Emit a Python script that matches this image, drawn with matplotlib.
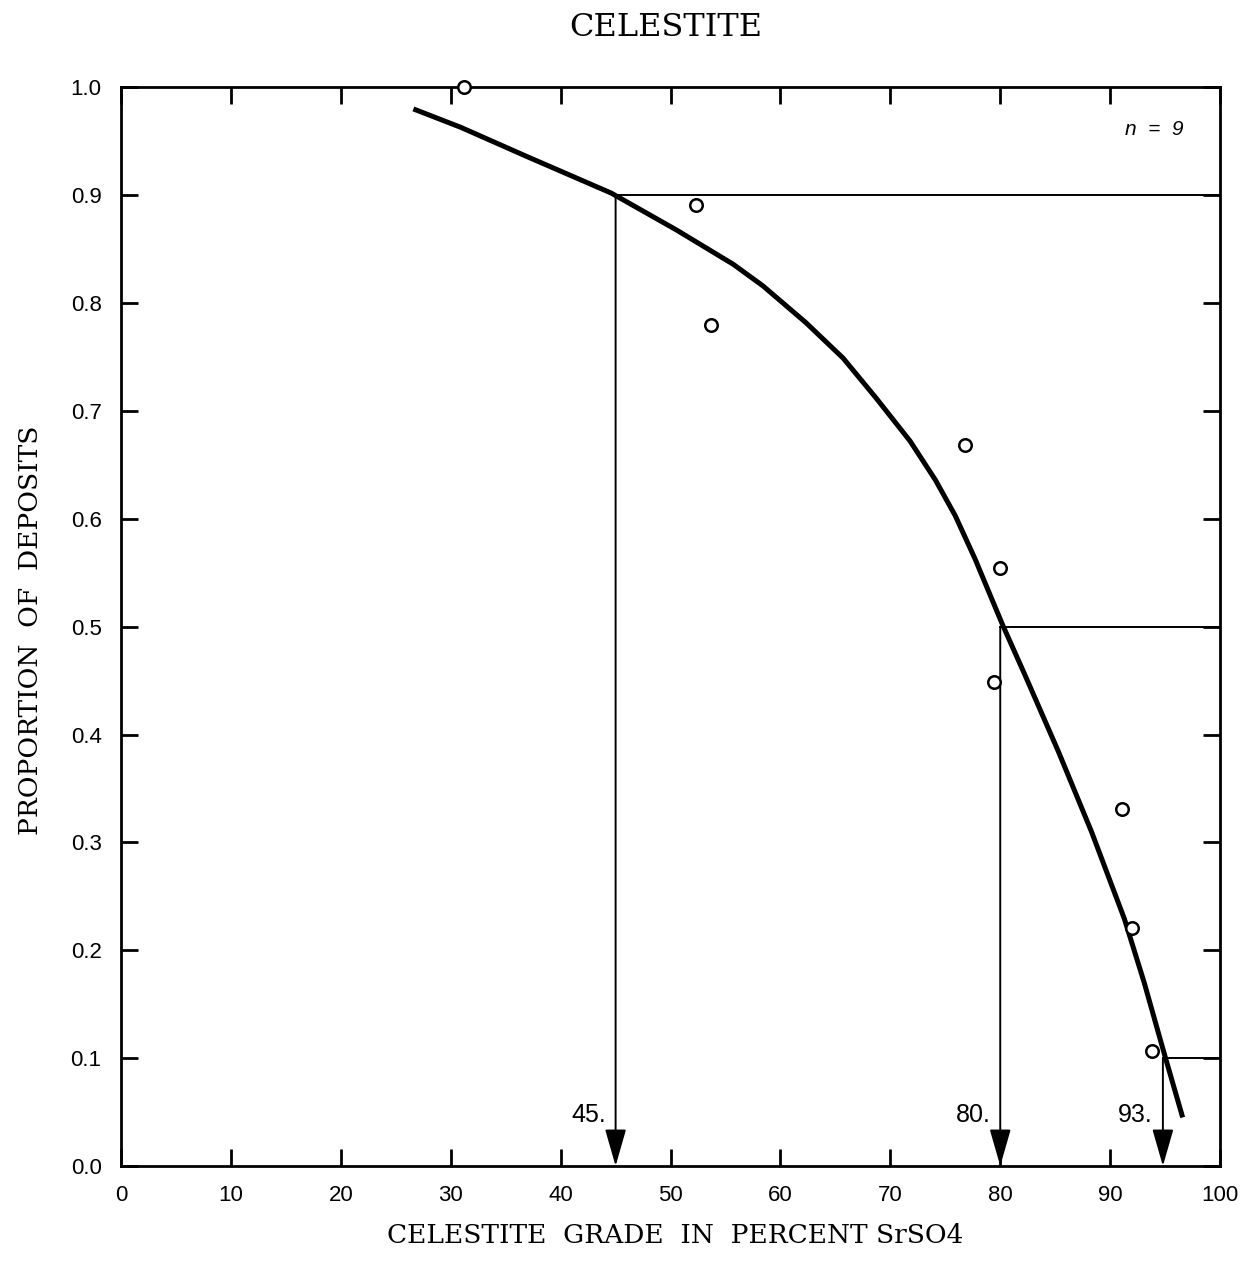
import matplotlib
matplotlib.use("Agg")
import matplotlib.pyplot as plt

# fitted curve
curve_x = [26.6, 30.9, 36.9, 44.6, 50.5, 55.7, 58.4, 62.3, 65.7, 68.7, 71.8,
           74.1, 75.9, 77.7, 80.2, 82.3, 85.3, 88.3, 91.3, 93.1, 94.9, 96.6]
curve_y = [0.980, 0.963, 0.936, 0.902, 0.868, 0.836, 0.816, 0.782, 0.749, 0.712,
           0.672, 0.636, 0.603, 0.563, 0.502, 0.454, 0.384, 0.310, 0.229, 0.170,
           0.105, 0.045]

# observed deposits
obs_x = [31.2, 52.3, 53.7, 76.8, 80.0, 79.4, 91.1, 92.0, 93.8]
obs_y = [1.0, 0.891, 0.780, 0.668, 0.554, 0.449, 0.331, 0.221, 0.107]

# percentiles: proportion level, grade where it is drawn, label
pct_levels = [0.9, 0.5, 0.1]
pct_grades = [45.0, 80.0, 94.8]
pct_labels = ["45.", "80.", "93."]

serif = ["DejaVu Serif"]
sans = ["Liberation Sans", "DejaVu Sans"]

fig = plt.figure(figsize=(12.57, 12.66), dpi=100)
ax = fig.add_axes([0.0963, 0.079, 0.8743, 0.852])

ax.plot(curve_x, curve_y, color="black", lw=3.6, solid_capstyle="butt",
        solid_joinstyle="round", zorder=3)
ax.plot(obs_x, obs_y, "o", ms=9, mfc="white", mec="black", mew=1.8, zorder=4,
        clip_on=False)

for lev, g, lab in zip(pct_levels, pct_grades, pct_labels):
    ax.plot([g, 100], [lev, lev], color="black", lw=1.4, zorder=2)
    ax.annotate("", xy=(g, 0), xytext=(g, lev),
                arrowprops=dict(arrowstyle="-|>,head_length=1.15,head_width=0.33",
                                mutation_scale=20, color="black", lw=1.4,
                                shrinkA=0, shrinkB=0))
    ax.text(g - 0.9, 0.047, lab, ha="right", va="center", fontsize=18,
            family=sans)

ax.text(94, 0.961, "n  =  9", ha="center", va="center", fontsize=15,
        style="italic", family=sans)

ax.set_xlim(0, 100)
ax.set_ylim(0, 1.0)
ax.set_xticks(range(0, 101, 10))
ax.set_yticks([i / 10 for i in range(11)])
ax.set_yticklabels([f"{i / 10:.1f}" for i in range(11)])
ax.tick_params(direction="in", length=12, width=2, top=True, right=True,
               labelsize=16, pad=14)
for lab in ax.get_xticklabels() + ax.get_yticklabels():
    lab.set_family(sans)
for s in ax.spines.values():
    s.set_linewidth(2)

fig.text(0.53, 0.978, "CELESTITE", ha="center", va="center", fontsize=23,
         family=serif)
fig.text(0.537, 0.014, "CELESTITE  GRADE  IN  PERCENT SrSO4", ha="center",
         va="bottom", fontsize=19, family=serif)
fig.text(0.024, 0.502, "PROPORTION  OF  DEPOSITS", ha="center", va="center",
         rotation=90, fontsize=19, family=serif)

fig.savefig("out.png", dpi=100, facecolor="white")
